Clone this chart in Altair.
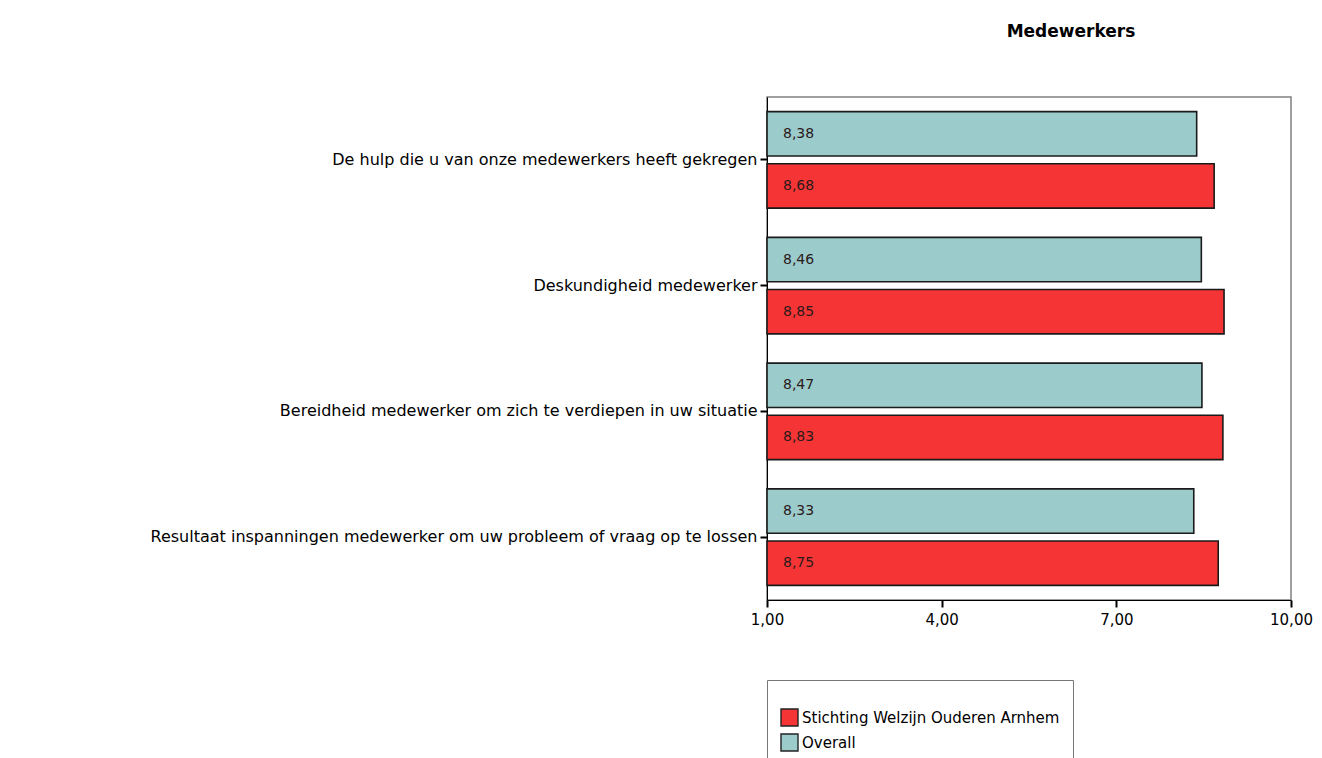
import altair as alt
import pandas as pd

categories = [
    "De hulp die u van onze medewerkers heeft gekregen",
    "Deskundigheid medewerker",
    "Bereidheid medewerker om zich te verdiepen in uw situatie",
    "Resultaat inspanningen medewerker om uw probleem of vraag op te lossen",
]
series = ["Stichting Welzijn Ouderen Arnhem", "Overall"]
swoa_values = [8.68, 8.85, 8.83, 8.75]
overall_values = [8.38, 8.46, 8.47, 8.33]
tick_values = [1, 4, 7, 10]

rows = []
for c, v in zip(categories, overall_values):
    rows.append({"cat": c, "series": series[1], "value": v})
for c, v in zip(categories, swoa_values):
    rows.append({"cat": c, "series": series[0], "value": v})
df = pd.DataFrame(rows)
df["label"] = df["value"].map(lambda v: f"{v:.2f}".replace(".", ","))

FONT = "DejaVu Sans"

y_enc = alt.Y("cat:N", sort=categories, title=None,
              scale=alt.Scale(paddingInner=0, paddingOuter=0),
              axis=alt.Axis(labelFont=FONT, labelFontSize=16, labelColor="#000",
                            labelLimit=900, tickColor="#000", tickSize=7, tickWidth=2,
                            domainColor="#000", labelPadding=3))
yoff = alt.YOffset("series:N", sort=[series[1], series[0]],
                   scale=alt.Scale(paddingInner=0.15, paddingOuter=0.28))

bars = alt.Chart(df).mark_bar(stroke="#1a1a1a", strokeWidth=1.6).encode(
    x=alt.X("value:Q", title=None,
            scale=alt.Scale(domain=[1, 10], nice=False, zero=False),
            axis=alt.Axis(values=tick_values, labelExpr="replace(format(datum.value, '.2f'), '.', ',')",
                          labelFont=FONT, labelFontSize=15, labelColor="#000", labelFlush=False,
                          tickColor="#000", tickSize=7, tickWidth=2, domainColor="#000",
                          labelPadding=5, grid=False)),
    x2=alt.datum(1),
    y=y_enc,
    yOffset=yoff,
    color=alt.Color("series:N", sort=series,
                    scale=alt.Scale(domain=series, range=["#f53535", "#9ccbcb"]),
                    legend=alt.Legend(orient="none", legendX=0, legendY=583, title=" ",
                                      titleFontSize=10, padding=13,
                                      strokeColor="#777", fillColor="#fff",
                                      symbolType="square", symbolSize=289,
                                      symbolStrokeColor="#222", symbolStrokeWidth=1.4,
                                      labelFont=FONT, labelFontSize=15, labelColor="#000",
                                      labelLimit=600, labelOffset=3, rowPadding=2)),
)

labels = alt.Chart(df).mark_text(align="left", baseline="middle", dx=16,
                                 font=FONT, fontSize=14, color="#2a1a1a").encode(
    x=alt.datum(1),
    y=alt.Y("cat:N", sort=categories),
    yOffset=yoff,
    text="label:N",
)

chart = alt.layer(bars, labels).properties(
    width=524, height=503,
    title=alt.TitleParams("Medewerkers", font=FONT, fontSize=17, fontWeight="bold",
                          color="#000", anchor="middle", dx=42, offset=56),
    autosize=alt.AutoSizeParams(type="none"),
    padding={"left": 767, "top": 97, "right": 31, "bottom": 158},
    background="#ffffff",
).configure_view(stroke="#808080", strokeWidth=1.5)

chart.save("out.html", embed_options={"renderer": "svg", "actions": False})
